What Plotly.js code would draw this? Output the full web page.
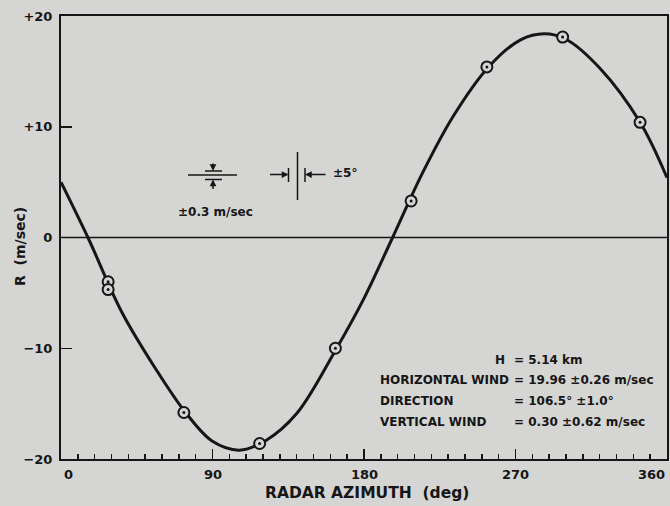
<!DOCTYPE html>
<html><head><meta charset="utf-8">
<script src="https://cdn.plot.ly/plotly-3.0.1.min.js"></script>
<style>html,body{margin:0;padding:0;background:#d5d5d3;}</style>
</head><body><div id="chart" style="width:670px;height:506px;"></div>
<script>
// measured radial velocities (circles)
const measuredAzimuth = [28, 28, 73, 118, 163, 208, 253, 298, 344];
const measuredR = [-4.0, -4.7, -15.8, -18.6, -10.0, 3.3, 15.4, 18.1, 10.4];
// fitted curve
const fitAzimuth = [0, 16, 36, 56, 74, 90, 106, 122, 140, 163, 180, 197, 215, 233, 254, 273, 287, 300, 320, 344, 360];
const fitR = [5.0, 0, -6.7, -11.8, -15.8, -18.4, -19.2, -18.3, -15.9, -10.2, -5.5, 0, 5.9, 10.95, 15.4, 17.85, 18.4, 17.9, 15.3, 10.4, 5.4];
const xTicks = [0, 90, 180, 270, 360];
const yTicks = [-20, -10, 0, 10, 20];
const yTickText = ['\u221220', '\u221210', '0', '+10', '+20'];
const infoLabels = ['H', 'HORIZONTAL WIND', 'DIRECTION', 'VERTICAL WIND'];
const infoValues = ['= 5.14 km', '= 19.96 \u00b10.26 m/sec', '= 106.5\u00b0 \u00b11.0\u00b0', '= 0.30 \u00b10.62 m/sec'];

const BG = '#d5d5d3', INK = '#161616', FONT = 'DejaVu Sans, Liberation Sans, sans-serif';
const L = 61, R = 667, T = 16, B = 459;
const px = x => (x - L) / (R - L);
const py = y => (B - y) / (B - T);

const traces = [
  {x: fitAzimuth, y: fitR, mode: 'lines', line: {shape: 'spline', smoothing: 1, color: INK, width: 3}, hoverinfo: 'skip'},
  {x: measuredAzimuth, y: measuredR, mode: 'markers', marker: {symbol: 'circle', size: 11, color: BG, line: {color: INK, width: 2}}},
  {x: measuredAzimuth, y: measuredR, mode: 'markers', marker: {symbol: 'circle', size: 3, color: INK}}
];

const shapes = [];
const line = (x0, y0, x1, y1, w) => shapes.push({type: 'line', xref: 'paper', yref: 'paper', x0: px(x0), y0: py(y0), x1: px(x1), y1: py(y1), line: {color: INK, width: w || 1.5}});
// zero line
shapes.push({type: 'line', xref: 'paper', yref: 'y', x0: 0, x1: 1, y0: 0, y1: 0, line: {color: INK, width: 1.5}});
// velocity error symbol
line(188, 175, 237, 175);
line(205, 171, 222, 171);
line(205, 179.5, 222, 179.5);
// azimuth error symbol
line(297.5, 152, 297.5, 200);
line(288.5, 168, 288.5, 182);
line(305, 168, 305, 182);

const ann = [];
const text = (t, x, y, anchor, size) => ann.push({text: '<b>' + t + '</b>', xref: 'paper', yref: 'paper', x: px(x), y: py(y), xanchor: anchor, yanchor: 'middle', showarrow: false, font: {family: FONT, size: size || 12, color: INK}});
const arrow = (x, y, ax, ay) => ann.push({text: '', xref: 'paper', yref: 'paper', x: px(x), y: py(y), ax: ax, ay: ay, showarrow: true, arrowhead: 2, arrowsize: 0.9, arrowwidth: 1.5, arrowcolor: INK, standoff: 0});
arrow(213, 171, 0, -9);
arrow(213, 179.5, 0, 11);
arrow(288.5, 174.5, -20, 0);
arrow(305, 174.5, 22, 0);
text('\u00b10.3 m/sec', 215, 212, 'center', 12);
text('\u00b15\u00b0', 331, 173, 'left', 12);

const rowY = [360, 380, 401, 421.5];
infoLabels.forEach((t, i) => text(t, i === 0 ? 507 : 378, rowY[i], i === 0 ? 'right' : 'left', 12));
infoValues.forEach((t, i) => text(t, 512, rowY[i], 'left', 12));

// x tick labels (edge labels kept inside the frame like the original)
xTicks.forEach((v, i) => ann.push({text: '<b>' + v + '</b>', xref: 'x', yref: 'paper', x: v, y: py(475), xanchor: i === 0 ? 'left' : (i === xTicks.length - 1 ? 'right' : 'center'), xshift: i === 0 ? 1 : 0, yanchor: 'middle', showarrow: false, font: {family: FONT, size: 13, color: INK}}));

// axis titles
text('RADAR AZIMUTH  (deg)', 367, 493, 'center', 15.5);
ann.push({text: '<b>R  (m/sec)</b>', xref: 'paper', yref: 'paper', x: px(20), y: py(247), xanchor: 'center', yanchor: 'middle', textangle: -90, showarrow: false, font: {family: FONT, size: 14, color: INK}});

const layout = {
  width: 670, height: 506,
  margin: {l: L, r: 670 - R, t: T, b: 506 - B},
  paper_bgcolor: BG, plot_bgcolor: BG,
  showlegend: false,
  font: {family: FONT, color: INK},
  xaxis: {range: [0, 360], tickmode: 'array', tickvals: xTicks, showticklabels: false, ticks: 'inside', ticklen: 10, tickwidth: 1.5, tickcolor: INK,
    minor: {tickmode: 'linear', tick0: 0, dtick: 10, ticks: 'inside', ticklen: 5, tickwidth: 1.5, tickcolor: INK, showgrid: false},
    showline: true, linecolor: INK, linewidth: 2, mirror: true, showgrid: false, zeroline: false},
  yaxis: {range: [-20, 20], tickmode: 'array', tickvals: yTicks, ticktext: yTickText, ticks: 'inside', ticklen: 11, tickwidth: 1.5, tickcolor: INK,
    showline: true, linecolor: INK, linewidth: 2, mirror: true, showgrid: false, zeroline: false,
    tickfont: {family: FONT, size: 13, color: INK, weight: 'bold'}, ticklabelstandoff: 4},
  shapes: shapes, annotations: ann
};
Plotly.newPlot('chart', traces, layout, {displayModeBar: false, staticPlot: true});
</script></body></html>
